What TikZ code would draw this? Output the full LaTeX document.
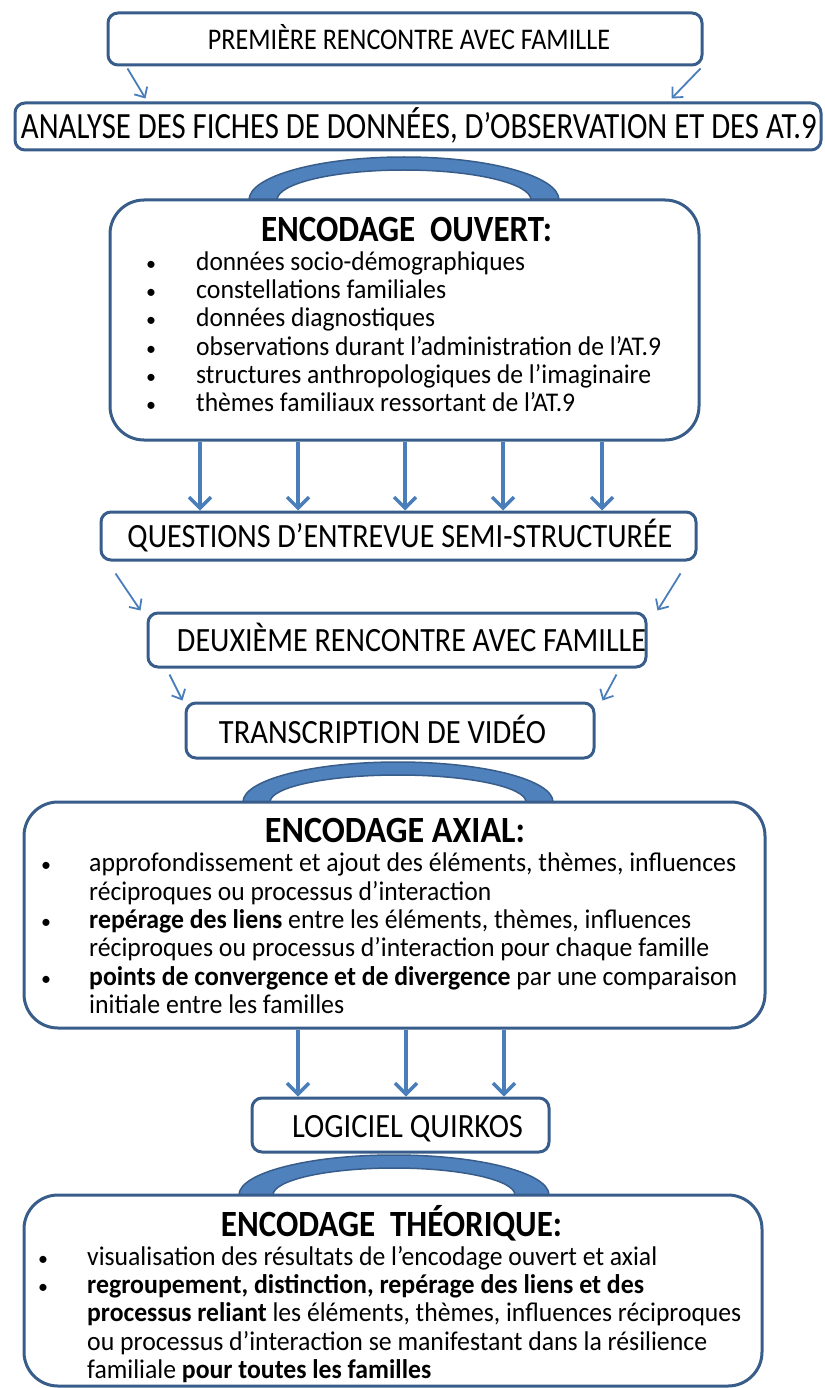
\documentclass[tikz,border=0pt]{standalone}
\usepackage{fontspec}
\setmainfont{Carlito}
\usepackage{graphicx}
\usetikzlibrary{arrows.meta,calc}

\definecolor{boxline}{HTML}{385D8A}
\definecolor{arrowblue}{HTML}{4A7EBB}
\definecolor{archfill}{HTML}{4F81BD}

% squeeze or widen a line of text to a given width, keeping its height
\newcommand\fitline[2]{\resizebox{#1pt}{\height}{#2}}
% list bullet in a fixed-width slot
\newcommand\bul[1]{\makebox[#1pt][l]{\fontsize{20}{24}\selectfont •}}

\begin{document}
\begin{tikzpicture}[x=1pt,y=-1pt,
  smallbox/.style={draw=boxline, line width=3pt, rounded corners=10pt, fill=white, inner sep=0pt},
  bigbox/.style={draw=boxline, line width=3pt, rounded corners=34pt, fill=white, inner sep=0pt},
  labeltext/.style={anchor=base, inner sep=0pt, font=\fontsize{34}{40}\selectfont},
  headtext/.style={anchor=base, inner sep=0pt, font=\bfseries\fontsize{37}{42}\selectfont},
  bodyline/.style={anchor=base west, inner sep=0pt, font=\fontsize{27}{31}\selectfont},
  thinarrow/.style={draw=arrowblue, line width=1.8pt, -{Straight Barb[length=8pt,width=15pt]}},
  thickarrow/.style={draw=arrowblue, line width=3.5pt, -{Straight Barb[length=11pt,width=22pt]}},
  archband/.style={fill=archfill, draw=boxline, line width=1.5pt}
]
\useasboundingbox (0,0) rectangle (824,1388);

% ---------- arches (drawn first, boxes cover their feet) ----------
\path[archband] (249,200) arc[start angle=180, end angle=0, x radius=155pt, y radius=43pt]
  -- (531,200) arc[start angle=0, end angle=180, x radius=127pt, y radius=30pt] -- cycle;
\path[archband] (243,802) arc[start angle=180, end angle=0, x radius=155pt, y radius=40pt]
  -- (526,802) arc[start angle=0, end angle=180, x radius=128pt, y radius=27pt] -- cycle;
\path[archband] (239,1195) arc[start angle=180, end angle=0, x radius=155pt, y radius=40pt]
  -- (515,1195) arc[start angle=0, end angle=180, x radius=121pt, y radius=27pt] -- cycle;

% ---------- boxes ----------
\node[smallbox, minimum width=594pt, minimum height=52pt] (premiere) at (405,39) {};
\node[smallbox, minimum width=806pt, minimum height=47pt] (analyse) at (418,126.5) {};
\node[bigbox, minimum width=589pt, minimum height=240pt] (ouvert) at (404.5,320) {};
\node[smallbox, minimum width=595pt, minimum height=48pt] (questions) at (398.5,536) {};
\node[smallbox, minimum width=498pt, minimum height=54pt] (deuxieme) at (397,640) {};
\node[smallbox, minimum width=408pt, minimum height=55pt] (transcription) at (390,730.5) {};
\node[bigbox, minimum width=741pt, minimum height=226pt] (axial) at (394.5,915) {};
\node[smallbox, minimum width=297pt, minimum height=54pt] (logiciel) at (400.5,1125) {};
\node[bigbox, minimum width=738pt, minimum height=191pt] (theorique) at (393,1290.5) {};

% ---------- box labels (placed on their baselines) ----------
\node[labeltext, font=\fontsize{30}{36}\selectfont] (premiereT) at (409,50) {\fitline{402}{PREMIÈRE RENCONTRE AVEC FAMILLE}};
\node[labeltext, font=\fontsize{37}{42}\selectfont] (analyseT) at (419,139) {\fitline{796}{ANALYSE DES FICHES DE DONNÉES, D’OBSERVATION ET DES AT.9}};
\node[labeltext] (questionsT) at (400,547) {\fitline{545}{QUESTIONS D’ENTREVUE SEMI-STRUCTURÉE}};
\node[labeltext] (deuxiemeT) at (411.5,651) {\fitline{469}{DEUXIÈME RENCONTRE AVEC FAMILLE}};
\node[labeltext] (transcriptionT) at (382.5,743) {\fitline{327}{TRANSCRIPTION DE VIDÉO}};
\node[labeltext] (logicielT) at (407.5,1137) {\fitline{231}{LOGICIEL QUIRKOS}};

% ---------- open coding ----------
\node[headtext] (ouvertH) at (406.5,241) {\fitline{291}{ENCODAGE\hspace{0.45em}OUVERT:}};
\node[bodyline] (o1) at (146,270) {\bul{50}\fitline{329}{données socio-démographiques}};
\node[bodyline] (o2) at (146,298) {\bul{50}\fitline{250}{constellations familiales}};
\node[bodyline] (o3) at (146,326) {\bul{50}\fitline{239}{données diagnostiques}};
\node[bodyline] (o4) at (146,355) {\bul{50}\fitline{465}{observations durant l’administration de l’AT.9}};
\node[bodyline] (o5) at (146,383) {\bul{50}\fitline{455}{structures anthropologiques de l’imaginaire}};
\node[bodyline] (o6) at (146,411) {\bul{50}\fitline{379}{thèmes familiaux ressortant de l’AT.9}};

% ---------- axial coding ----------
\node[headtext] (axialH) at (395,842) {\fitline{260}{ENCODAGE AXIAL:}};
\node[bodyline] (a1) at (41,871) {\bul{48}\fitline{647}{approfondissement et ajout des éléments, thèmes, influences}};
\node[bodyline] (a2) at (89,900) {\fitline{402}{réciproques ou processus d’interaction}};
\node[bodyline] (a3) at (41,928) {\bul{48}\fitline{602}{\textbf{repérage des liens} entre les éléments, thèmes, influences}};
\node[bodyline] (a4) at (89,956) {\fitline{620}{réciproques ou processus d’interaction pour chaque famille}};
\node[bodyline] (a5) at (41,985) {\bul{48}\fitline{648}{\textbf{points de convergence et de divergence} par une comparaison}};
\node[bodyline] (a6) at (89,1013) {\fitline{255}{initiale entre les familles}};

% ---------- theoretical coding ----------
\node[headtext] (theoriqueH) at (391.5,1236) {\fitline{341}{ENCODAGE\hspace{0.45em}THÉORIQUE:}};
\node[bodyline] (t1) at (38,1265) {\bul{49}\fitline{570}{visualisation des résultats de l’encodage ouvert et axial}};
\node[bodyline] (t2) at (38,1293) {\bul{49}\fitline{557}{\textbf{regroupement, distinction, repérage des liens et des}}};
\node[bodyline] (t3) at (87,1321) {\fitline{654}{\textbf{processus reliant} les éléments, thèmes, influences réciproques}};
\node[bodyline] (t4) at (87,1350) {\fitline{620}{ou processus d’interaction se manifestant dans la résilience}};
\node[bodyline] (t5) at (87,1378) {\fitline{344}{familiale \textbf{pour toutes les familles}}};

% ---------- connectors ----------
\draw[thinarrow] ($(premiere.south west)+(21,2)$) -- ($(analyse.north west)+(132,-3)$);
\draw[thinarrow] ($(premiere.south east)+(-3,2)$) -- ($(analyse.north east)+(-151,-3)$);

\coordinate (col1) at (200,0);
\coordinate (col2) at (298,0);
\coordinate (col3) at (405,0);
\coordinate (col4) at (503,0);
\coordinate (col5) at (602,0);
\foreach \c in {col1,col2,col3,col4,col5}
  \draw[thickarrow] (ouvert.south -| \c) -- (questions.north -| \c);

\draw[thinarrow] ($(questions.south west)+(16,12)$) -- ($(deuxieme.north west)+(-6,-1)$);
\draw[thinarrow] ($(questions.south east)+(-17,12)$) -- ($(deuxieme.north east)+(10,-1)$);
\draw[thinarrow] ($(deuxieme.south west)+(23,6)$) -- ($(transcription.north west)+(-2,-1)$);
\draw[thinarrow] ($(deuxieme.south east)+(-31,6)$) -- ($(transcription.north east)+(7,-1)$);

\coordinate (colA) at (298,0);
\coordinate (colB) at (406,0);
\coordinate (colC) at (504,0);
\foreach \c in {colA,colB,colC}
  \draw[thickarrow] (axial.south -| \c) -- (logiciel.north -| \c);
\end{tikzpicture}
\end{document}
